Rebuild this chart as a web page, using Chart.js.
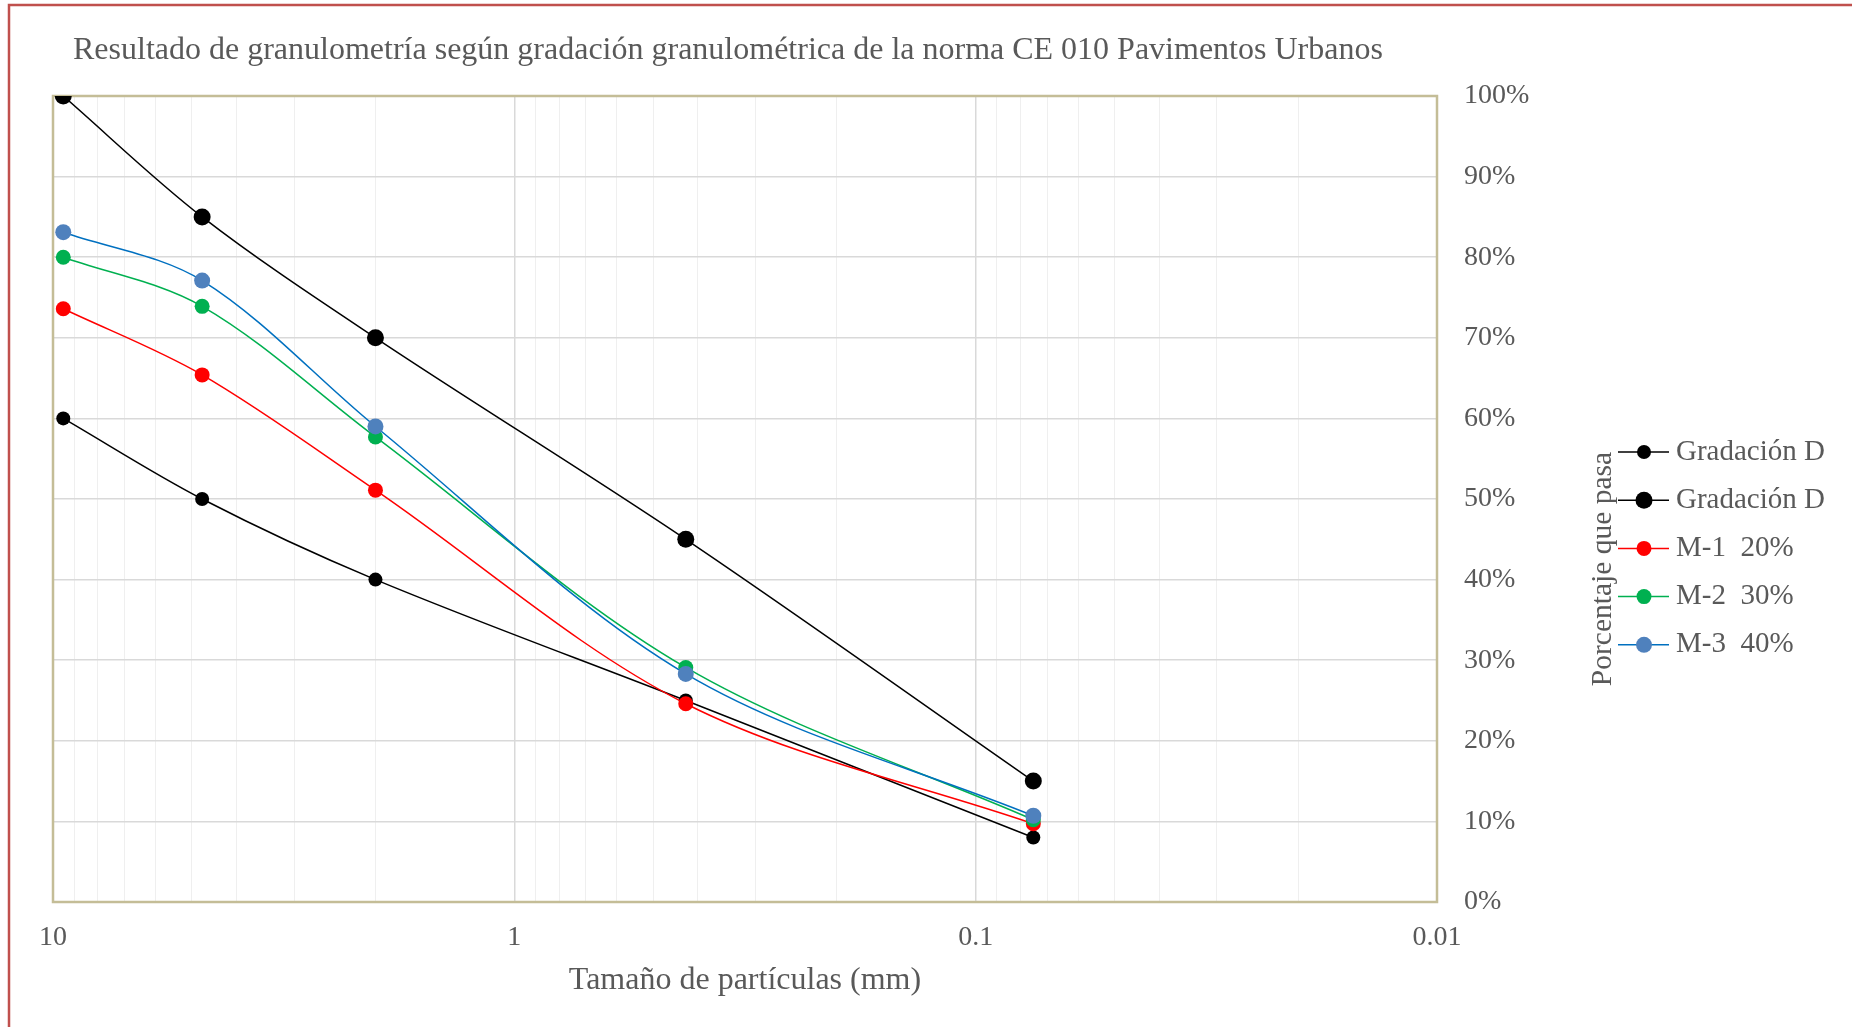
<!DOCTYPE html>
<html>
<head>
<meta charset="utf-8">
<title>Granulometría CE 010</title>
<script src="https://cdn.jsdelivr.net/npm/chart.js"></script>
<style>
  html, body { margin: 0; padding: 0; background: #fff; }
  #wrap { width: 1852px; height: 1027px; }
</style>
</head>
<body>
<div id="wrap"><canvas id="myChart"></canvas></div>
<script>
    // sieve openings (mm)
    const sizes = [9.5, 4.75, 2.0, 0.425, 0.075];

    // % passing
    const gradDLower = [60, 50, 40, 25, 8];
    const gradDUpper = [100, 85, 70, 45, 15];
    const m1 = [73.6, 65.4, 51.1, 24.6, 9.7];
    const m2 = [80.0, 73.9, 57.7, 29.1, 10.2];
    const m3 = [83.1, 77.1, 59.0, 28.3, 10.7];

    const seriesLabels = ['Gradación D', 'Gradación D', 'M-1  20%', 'M-2  30%', 'M-3  40%'];
    const xTickLabels = [10, 1, 0.1, 0.01];
    const yTicks = [0, 10, 20, 30, 40, 50, 60, 70, 80, 90, 100];

    const chartTitle = 'Resultado de granulometría según gradación granulométrica de la norma CE 010 Pavimentos Urbanos';
    const xTitle = 'Tamaño de partículas (mm)';
    const yTitle = 'Porcentaje que pasa';

    const FONT = "'Liberation Serif', 'Times New Roman', serif";
    const TEXT = '#595959';

    // gridline positions: 1..9 inside each decade, plus the 10 at the end
    const gridValues = [];
    [0.01, 0.1, 1].forEach(d => {
        for (let k = 1; k < 10; k++) gridValues.push(d * k);
    });
    gridValues.push(10);

    const toPoints = ys => sizes.map((x, i) => ({ x: x, y: ys[i] }));

    function series(label, ys, line, dot, radius, order) {
        return {
            label: label,
            data: toPoints(ys),
            borderColor: line,
            borderWidth: 1.5,
            pointBackgroundColor: dot,
            pointBorderColor: dot,
            pointBorderWidth: 0,
            pointRadius: radius,
            pointHoverRadius: radius,
            tension: 0.33,
            fill: false,
            order: order
        };
    }

    const datasets = [
        series(seriesLabels[0], gradDLower, '#000000', '#000000', 7, 4),
        series(seriesLabels[1], gradDUpper, '#000000', '#000000', 8.5, 3),
        series(seriesLabels[2], m1, '#FF0000', '#FF0000', 7.5, 2),
        series(seriesLabels[3], m2, '#00B050', '#00B050', 7.5, 1),
        series(seriesLabels[4], m3, '#0070C0', '#4F81BD', 8, 0)
    ];

    const decor = {
        id: 'decor',
        beforeDraw(chart) {
            const c = chart.ctx;
            c.save();
            c.fillStyle = '#ffffff';
            c.fillRect(0, 0, chart.width, chart.height);
            c.restore();
        },
        beforeDatasetsDraw(chart) {
            const a = chart.chartArea;
            const c = chart.ctx;
            c.save();
            c.strokeStyle = '#C4BD97';
            c.lineWidth = 2.5;
            c.strokeRect(a.left, a.top, a.right - a.left, a.bottom - a.top);
            c.restore();
        },
        afterDraw(chart) {
            const a = chart.chartArea;
            const c = chart.ctx;
            c.save();

            // chart title
            c.fillStyle = TEXT;
            c.font = '32px ' + FONT;
            c.textAlign = 'left';
            c.textBaseline = 'middle';
            c.fillText(chartTitle, a.left + 20, 51);

            // y axis title, reads bottom to top
            c.font = '29.5px ' + FONT;
            c.save();
            c.translate(a.right + 166, a.top + 473);
            c.rotate(-Math.PI / 2);
            c.textAlign = 'center';
            c.textBaseline = 'middle';
            c.fillText(yTitle, 0, 0);
            c.restore();

            // legend
            c.font = '29px ' + FONT;
            const x0 = a.right + 181;
            chart.data.datasets.forEach((ds, i) => {
                const y = a.top + 356 + i * 48.2;
                c.strokeStyle = ds.borderColor;
                c.lineWidth = 1.5;
                c.beginPath();
                c.moveTo(x0, y);
                c.lineTo(x0 + 51, y);
                c.stroke();
                c.fillStyle = ds.pointBackgroundColor;
                c.beginPath();
                c.arc(x0 + 26, y, ds.pointRadius, 0, Math.PI * 2);
                c.fill();
                c.fillStyle = TEXT;
                c.textAlign = 'left';
                c.textBaseline = 'middle';
                c.fillText(ds.label, x0 + 58, y);
            });

            // outer frame (top and left edges)
            c.strokeStyle = '#C0504D';
            c.lineWidth = 2.5;
            c.beginPath();
            c.moveTo(chart.width, 5);
            c.lineTo(9, 5);
            c.lineTo(9, chart.height);
            c.stroke();
            c.restore();
        }
    };

    const ctx = document.getElementById('myChart').getContext('2d');
    const myChart = new Chart(ctx, {
        type: 'line',
        data: { datasets: datasets },
        options: {
            responsive: true,
            maintainAspectRatio: false,
            animation: false,
            layout: { padding: { top: 96, left: 53, right: 0, bottom: 29 } },
            plugins: {
                legend: { display: false },
                title: { display: false },
                tooltip: { enabled: false }
            },
            scales: {
                x: {
                    type: 'logarithmic',
                    reverse: true,
                    min: 0.01,
                    max: 10,
                    afterBuildTicks: s => {
                        s.ticks = gridValues.map(v => ({ value: v }));
                    },
                    ticks: {
                        autoSkip: false,
                        maxRotation: 0,
                        padding: 22,
                        color: TEXT,
                        font: { family: FONT, size: 28, lineHeight: 1 },
                        callback: v => xTickLabels.includes(v) ? String(v) : ''
                    },
                    grid: {
                        drawTicks: false,
                        color: c => xTickLabels.includes(c.tick && c.tick.value) ? '#d9d9d9' : '#efefef',
                        lineWidth: c => xTickLabels.includes(c.tick && c.tick.value) ? 1.5 : 1
                    },
                    border: { display: false },
                    title: {
                        display: true,
                        text: xTitle,
                        color: TEXT,
                        font: { family: FONT, size: 32, lineHeight: 1 },
                        padding: { top: -9, bottom: 1 }
                    }
                },
                y: {
                    position: 'right',
                    min: 0,
                    max: 100,
                    afterBuildTicks: s => {
                        s.ticks = yTicks.map(v => ({ value: v }));
                    },
                    afterFit: s => { s.width = 415; },
                    ticks: {
                        padding: 27,
                        color: TEXT,
                        font: { family: FONT, size: 28 },
                        callback: v => v + '%'
                    },
                    grid: { drawTicks: false, color: '#d9d9d9', lineWidth: 1.5 },
                    border: { display: false }
                }
            }
        },
        plugins: [decor]
    });
</script>
</body>
</html>
